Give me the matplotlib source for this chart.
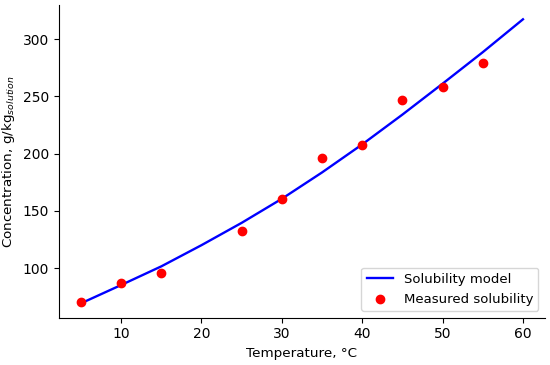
import matplotlib
matplotlib.use('Agg')
from matplotlib import pyplot as plt

# measured solubility
temp_meas = [5, 10, 15, 25, 30, 35, 40, 45, 50, 55]
conc_meas = [70.4, 86.9, 96.0, 132.6, 160.1, 196.1, 207.7, 247.1, 258.5, 278.8]

# solubility model curve
temp_model = [5, 10, 15, 20, 25, 30, 35, 40, 45, 50, 55, 60]
conc_model = [69.2, 85.2, 101.5, 120.0, 139.5, 160.5, 183.5, 208.0, 234.0, 261.0, 288.5, 317.2]

fig = plt.figure(figsize=(5.5, 3.65), dpi=100)
ax = fig.add_axes([0.107, 0.130, 0.884, 0.856])

ax.plot(temp_model, conc_model, color='blue', linewidth=1.7, label='Solubility model')
ax.scatter(temp_meas, conc_meas, color='red', s=36, label='Measured solubility', zorder=3)

ax.spines['top'].set_visible(False)
ax.spines['right'].set_visible(False)

ax.set_xticks([10, 20, 30, 40, 50, 60])
ax.set_yticks([100, 150, 200, 250, 300])
ax.tick_params(labelsize=10)

ax.set_xlabel('Temperature, °C', fontsize=9.7)
ax.set_ylabel('Concentration, g/kg$_{solution}$', fontsize=9.7)

ax.legend(loc='lower right', fontsize=9.5)

fig.savefig('out.png', dpi=100)
